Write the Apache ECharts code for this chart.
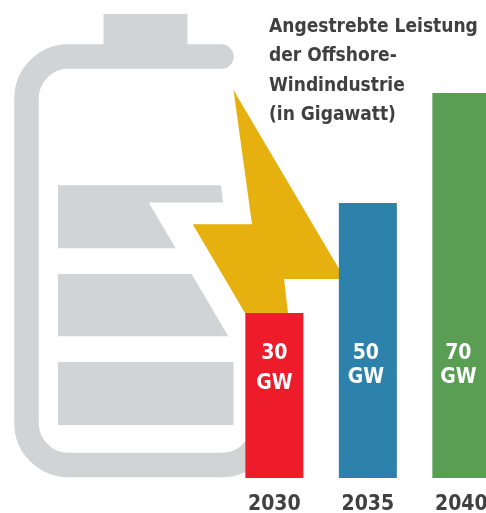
<!DOCTYPE html>
<html>
<head>
    <meta charset="utf-8">
    <title>Angestrebte Leistung der Offshore-Windindustrie</title>
    <script src="https://cdn.jsdelivr.net/npm/echarts@6/dist/echarts.min.js"></script>
    <style>
        html, body { margin: 0; padding: 0; background: #fff; }
    </style>
</head>
<body>
<div id="main" style="width:486px;height:513px;"></div>
<script>
    var years = ['2030', '2035', '2040'];
    var gigawatt = [30, 50, 70];
    var titleLines = ['Angestrebte Leistung', 'der Offshore-', 'Windindustrie', '(in Gigawatt)'];
    var unit = 'GW';

    var FONT = '"DejaVu Sans Condensed", "Liberation Sans", sans-serif';
    var GREY = '#d1d3d4';
    var TEXT = '#404041';
    var barColors = ['#ee1c2b', '#2c82ab', '#5a9e54'];
    // Labels sit at about the same height, not relative to the bar top
    var labelLayout = [
        { distance: 79, lineHeight: 30, offset: [0, 0] },
        { distance: 88, lineHeight: 24, offset: [-2, 0] },
        { distance: 88, lineHeight: 24, offset: [-3, 0] }
    ];

    var myChart = echarts.init(document.getElementById('main'));

    // battery and lightning bolt behind the bars
    function poly(points, fill) {
        return { type: 'polygon', silent: true, shape: { points: points }, style: { fill: fill } };
    }
    function corner(cx, cy, from, to) {
        return {
            type: 'arc',
            silent: true,
            shape: { cx: cx, cy: cy, r: 42, startAngle: from, endAngle: to, clockwise: true },
            style: { fill: 'none', stroke: GREY, lineWidth: 24.5 }
        };
    }
    function band(points) {
        return {
            type: 'polyline',
            silent: true,
            shape: { points: points },
            style: { fill: 'none', stroke: GREY, lineWidth: 24.5 }
        };
    }

    myChart.setOption({
        animation: false,
        title: {
            text: titleLines.join('\n'),
            left: 269,
            top: 12,
            padding: 0,
            textStyle: { fontFamily: FONT, fontWeight: 'bold', fontSize: 19, lineHeight: 29.5, color: TEXT }
        },
        grid: { left: 227.6, top: 93, width: 280.5, height: 385, outerBoundsMode: 'none' },
        xAxis: {
            type: 'category',
            data: years,
            axisLine: { show: false },
            axisTick: { show: false },
            axisLabel: { margin: 16, fontFamily: FONT, fontWeight: 'bold', fontSize: 21, color: TEXT }
        },
        yAxis: { type: 'value', min: 0, max: 70, show: false },
        graphic: [
            { type: 'circle', silent: true, shape: { cx: 221.5, cy: 56.6, r: 12.25 }, style: { fill: GREY } },
            band([[221.5, 56.6], [67.5, 56.6]]),
            corner(68.5, 98.5, Math.PI, Math.PI * 1.5),
            band([[26.5, 97.5], [26.5, 424]]),
            corner(68.5, 423, Math.PI / 2, Math.PI),
            band([[67.5, 465], [223, 465]]),
            corner(222, 423, 0, Math.PI / 2),
            { type: 'rect', silent: true, shape: { x: 103.5, y: 14, width: 84, height: 31 }, style: { fill: GREY } },
            poly([[58, 185.3], [221, 185.3], [223, 202.4], [148.7, 202.4], [175.7, 248.3], [58, 248.3]], GREY),
            poly([[58, 274], [191.7, 274], [228.3, 336.3], [58, 336.3]], GREY),
            poly([[58, 362], [233.5, 362], [233.5, 425], [58, 425]], GREY),
            poly([[233.5, 90], [345, 279], [284, 279], [290, 330], [255, 330], [192.7, 224.3], [252, 224.3]], '#e6b00e')
        ],
        series: [{
            type: 'bar',
            barWidth: 58,
            data: gigawatt.map(function (v, i) {
                return {
                    value: v,
                    itemStyle: { color: barColors[i] },
                    label: {
                        show: true,
                        position: 'insideBottom',
                        distance: labelLayout[i].distance,
                        offset: labelLayout[i].offset,
                        lineHeight: labelLayout[i].lineHeight,
                        formatter: '{c}\n' + unit,
                        fontFamily: FONT,
                        fontWeight: 'bold',
                        fontSize: 21,
                        color: '#fff'
                    }
                };
            })
        }]
    });
</script>
</body>
</html>
